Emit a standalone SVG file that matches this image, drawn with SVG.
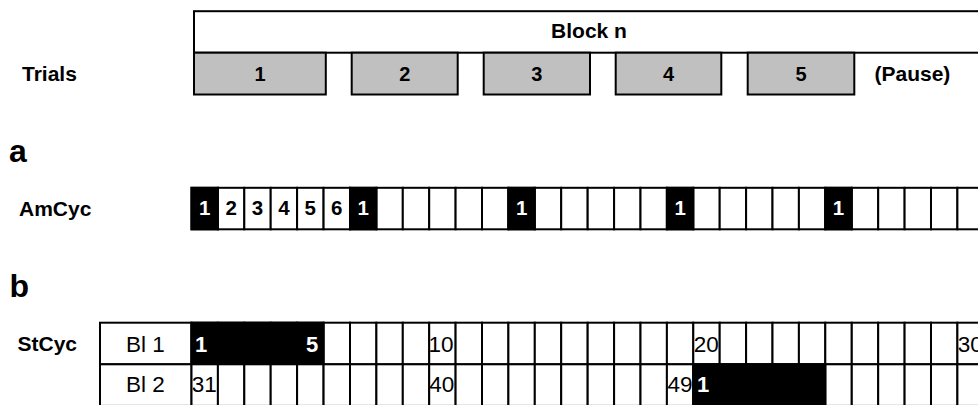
<svg xmlns="http://www.w3.org/2000/svg" width="978" height="405" viewBox="0 0 978 405">
<style>
text{font-family:"Liberation Sans",Arial,sans-serif;fill:#000}
.lab{font-size:21px;font-weight:bold}
.big{font-size:32px;font-weight:bold}
.tn{font-size:20px;font-weight:bold;text-anchor:middle}
.an{font-size:20.5px;font-weight:bold;text-anchor:middle}
.w{fill:#fff}
.rn{font-size:22.5px}
.sb{font-size:22px;font-weight:bold;fill:#fff}
.box{fill:#fff;stroke:#000;stroke-width:2}
.trial{fill:#c0c0c0;stroke:#000;stroke-width:2}
.blk{fill:#000;stroke:#000;stroke-width:2}
</style>
<rect width="978" height="405" fill="#fff"/>

<g id="block">
<rect class="box" x="194" y="11.2" width="800" height="41.5"/>
<text class="lab" x="589" y="38.3" text-anchor="middle">Block n</text>
</g>

<g id="trials">
<text class="lab" x="22" y="80.7">Trials</text>
<g id="trial1"><rect class="trial" x="194" y="52.7" width="131.8" height="41.8"/><text class="tn" x="260" y="80.6">1</text></g>
<g id="trial2"><rect class="trial" x="351.7" y="52.7" width="106" height="41.8"/><text class="tn" x="404.7" y="80.6">2</text></g>
<g id="trial3"><rect class="trial" x="483.7" y="52.7" width="106.3" height="41.8"/><text class="tn" x="536.8" y="80.6">3</text></g>
<g id="trial4"><rect class="trial" x="615.7" y="52.7" width="105.6" height="41.8"/><text class="tn" x="668.5" y="80.6">4</text></g>
<g id="trial5"><rect class="trial" x="747.7" y="52.7" width="106.6" height="41.8"/><text class="tn" x="801" y="80.6">5</text></g>
<text class="lab" x="874.5" y="80.6">(Pause)</text>
</g>

<g id="label-a"><text class="big" x="9" y="161.7">a</text></g>

<g id="amcyc">
<text class="lab" x="19" y="215.7">AmCyc</text>
<g>
<rect class="box" x="191.5" y="187.8" width="26.41" height="41.5"/>
<rect class="box" x="217.9" y="187.8" width="26.41" height="41.5"/>
<rect class="box" x="244.3" y="187.8" width="26.41" height="41.5"/>
<rect class="box" x="270.7" y="187.8" width="26.41" height="41.5"/>
<rect class="box" x="297.1" y="187.8" width="26.41" height="41.5"/>
<rect class="box" x="323.6" y="187.8" width="26.41" height="41.5"/>
<rect class="box" x="350.0" y="187.8" width="26.41" height="41.5"/>
<rect class="box" x="376.4" y="187.8" width="26.41" height="41.5"/>
<rect class="box" x="402.8" y="187.8" width="26.41" height="41.5"/>
<rect class="box" x="429.2" y="187.8" width="26.41" height="41.5"/>
<rect class="box" x="455.6" y="187.8" width="26.41" height="41.5"/>
<rect class="box" x="482.0" y="187.8" width="26.41" height="41.5"/>
<rect class="box" x="508.4" y="187.8" width="26.41" height="41.5"/>
<rect class="box" x="534.8" y="187.8" width="26.41" height="41.5"/>
<rect class="box" x="561.2" y="187.8" width="26.41" height="41.5"/>
<rect class="box" x="587.7" y="187.8" width="26.41" height="41.5"/>
<rect class="box" x="614.1" y="187.8" width="26.41" height="41.5"/>
<rect class="box" x="640.5" y="187.8" width="26.41" height="41.5"/>
<rect class="box" x="666.9" y="187.8" width="26.41" height="41.5"/>
<rect class="box" x="693.3" y="187.8" width="26.41" height="41.5"/>
<rect class="box" x="719.7" y="187.8" width="26.41" height="41.5"/>
<rect class="box" x="746.1" y="187.8" width="26.41" height="41.5"/>
<rect class="box" x="772.5" y="187.8" width="26.41" height="41.5"/>
<rect class="box" x="798.9" y="187.8" width="26.41" height="41.5"/>
<rect class="box" x="825.3" y="187.8" width="26.41" height="41.5"/>
<rect class="box" x="851.8" y="187.8" width="26.41" height="41.5"/>
<rect class="box" x="878.2" y="187.8" width="26.41" height="41.5"/>
<rect class="box" x="904.6" y="187.8" width="26.41" height="41.5"/>
<rect class="box" x="931.0" y="187.8" width="26.41" height="41.5"/>
<rect class="box" x="957.4" y="187.8" width="26.41" height="41.5"/>
<rect class="blk" x="191.5" y="187.8" width="26.41" height="41.5"/>
<rect class="blk" x="350.0" y="187.8" width="26.41" height="41.5"/>
<rect class="blk" x="508.4" y="187.8" width="26.41" height="41.5"/>
<rect class="blk" x="666.9" y="187.8" width="26.41" height="41.5"/>
<rect class="blk" x="825.3" y="187.8" width="26.41" height="41.5"/>
</g>
<text class="an w" x="204.7" y="215.3">1</text>
<text class="an" x="231.1" y="215.3">2</text>
<text class="an" x="257.5" y="215.3">3</text>
<text class="an" x="283.9" y="215.3">4</text>
<text class="an" x="310.3" y="215.3">5</text>
<text class="an" x="336.8" y="215.3">6</text>
<text class="an w" x="363.2" y="215.3">1</text>
<text class="an w" x="521.6" y="215.3">1</text>
<text class="an w" x="680.1" y="215.3">1</text>
<text class="an w" x="838.5" y="215.3">1</text>
</g>

<g id="label-b"><text class="big" x="9.5" y="297.3">b</text></g>

<g id="stcyc">
<text class="lab" x="17.5" y="351">StCyc</text>
<g id="row1">
<rect class="box" x="100" y="322.7" width="91.5" height="41.6"/>
<rect class="box" x="191.5" y="322.7" width="26.41" height="41.6"/>
<rect class="box" x="217.9" y="322.7" width="26.41" height="41.6"/>
<rect class="box" x="244.3" y="322.7" width="26.41" height="41.6"/>
<rect class="box" x="270.7" y="322.7" width="26.41" height="41.6"/>
<rect class="box" x="297.1" y="322.7" width="26.41" height="41.6"/>
<rect class="box" x="323.6" y="322.7" width="26.41" height="41.6"/>
<rect class="box" x="350.0" y="322.7" width="26.41" height="41.6"/>
<rect class="box" x="376.4" y="322.7" width="26.41" height="41.6"/>
<rect class="box" x="402.8" y="322.7" width="26.41" height="41.6"/>
<rect class="box" x="429.2" y="322.7" width="26.41" height="41.6"/>
<rect class="box" x="455.6" y="322.7" width="26.41" height="41.6"/>
<rect class="box" x="482.0" y="322.7" width="26.41" height="41.6"/>
<rect class="box" x="508.4" y="322.7" width="26.41" height="41.6"/>
<rect class="box" x="534.8" y="322.7" width="26.41" height="41.6"/>
<rect class="box" x="561.2" y="322.7" width="26.41" height="41.6"/>
<rect class="box" x="587.7" y="322.7" width="26.41" height="41.6"/>
<rect class="box" x="614.1" y="322.7" width="26.41" height="41.6"/>
<rect class="box" x="640.5" y="322.7" width="26.41" height="41.6"/>
<rect class="box" x="666.9" y="322.7" width="26.41" height="41.6"/>
<rect class="box" x="693.3" y="322.7" width="26.41" height="41.6"/>
<rect class="box" x="719.7" y="322.7" width="26.41" height="41.6"/>
<rect class="box" x="746.1" y="322.7" width="26.41" height="41.6"/>
<rect class="box" x="772.5" y="322.7" width="26.41" height="41.6"/>
<rect class="box" x="798.9" y="322.7" width="26.41" height="41.6"/>
<rect class="box" x="825.3" y="322.7" width="26.41" height="41.6"/>
<rect class="box" x="851.8" y="322.7" width="26.41" height="41.6"/>
<rect class="box" x="878.2" y="322.7" width="26.41" height="41.6"/>
<rect class="box" x="904.6" y="322.7" width="26.41" height="41.6"/>
<rect class="box" x="931.0" y="322.7" width="26.41" height="41.6"/>
<rect class="box" x="957.4" y="322.7" width="26.41" height="41.6"/>
<rect class="blk" x="191.5" y="322.7" width="132.05" height="41.6"/>
<text class="rn" x="145.5" y="352" text-anchor="middle">Bl 1</text>
<text class="sb" x="195" y="352">1</text>
<text class="sb" x="306" y="352">5</text>
<text class="rn" x="428.6" y="352">10</text>
<text class="rn" x="693.8" y="352">20</text>
<text class="rn" x="957.8" y="352">30</text>
</g>
<g id="row2">
<rect class="box" x="100" y="364.3" width="91.5" height="41.6"/>
<rect class="box" x="191.5" y="364.3" width="26.41" height="41.6"/>
<rect class="box" x="217.9" y="364.3" width="26.41" height="41.6"/>
<rect class="box" x="244.3" y="364.3" width="26.41" height="41.6"/>
<rect class="box" x="270.7" y="364.3" width="26.41" height="41.6"/>
<rect class="box" x="297.1" y="364.3" width="26.41" height="41.6"/>
<rect class="box" x="323.6" y="364.3" width="26.41" height="41.6"/>
<rect class="box" x="350.0" y="364.3" width="26.41" height="41.6"/>
<rect class="box" x="376.4" y="364.3" width="26.41" height="41.6"/>
<rect class="box" x="402.8" y="364.3" width="26.41" height="41.6"/>
<rect class="box" x="429.2" y="364.3" width="26.41" height="41.6"/>
<rect class="box" x="455.6" y="364.3" width="26.41" height="41.6"/>
<rect class="box" x="482.0" y="364.3" width="26.41" height="41.6"/>
<rect class="box" x="508.4" y="364.3" width="26.41" height="41.6"/>
<rect class="box" x="534.8" y="364.3" width="26.41" height="41.6"/>
<rect class="box" x="561.2" y="364.3" width="26.41" height="41.6"/>
<rect class="box" x="587.7" y="364.3" width="26.41" height="41.6"/>
<rect class="box" x="614.1" y="364.3" width="26.41" height="41.6"/>
<rect class="box" x="640.5" y="364.3" width="26.41" height="41.6"/>
<rect class="box" x="666.9" y="364.3" width="26.41" height="41.6"/>
<rect class="box" x="693.3" y="364.3" width="26.41" height="41.6"/>
<rect class="box" x="719.7" y="364.3" width="26.41" height="41.6"/>
<rect class="box" x="746.1" y="364.3" width="26.41" height="41.6"/>
<rect class="box" x="772.5" y="364.3" width="26.41" height="41.6"/>
<rect class="box" x="798.9" y="364.3" width="26.41" height="41.6"/>
<rect class="box" x="825.3" y="364.3" width="26.41" height="41.6"/>
<rect class="box" x="851.8" y="364.3" width="26.41" height="41.6"/>
<rect class="box" x="878.2" y="364.3" width="26.41" height="41.6"/>
<rect class="box" x="904.6" y="364.3" width="26.41" height="41.6"/>
<rect class="box" x="931.0" y="364.3" width="26.41" height="41.6"/>
<rect class="box" x="957.4" y="364.3" width="26.41" height="41.6"/>
<rect class="blk" x="693.3" y="364.3" width="132.05" height="41.6"/>
<text class="rn" x="145.5" y="392" text-anchor="middle">Bl 2</text>
<text class="rn" x="191.7" y="392">31</text>
<text class="rn" x="429.2" y="392">40</text>
<text class="rn" x="667.4" y="392">49</text>
<text class="sb" x="697" y="392">1</text>
</g>
</g>

<g id="connectors"></g>
</svg>
